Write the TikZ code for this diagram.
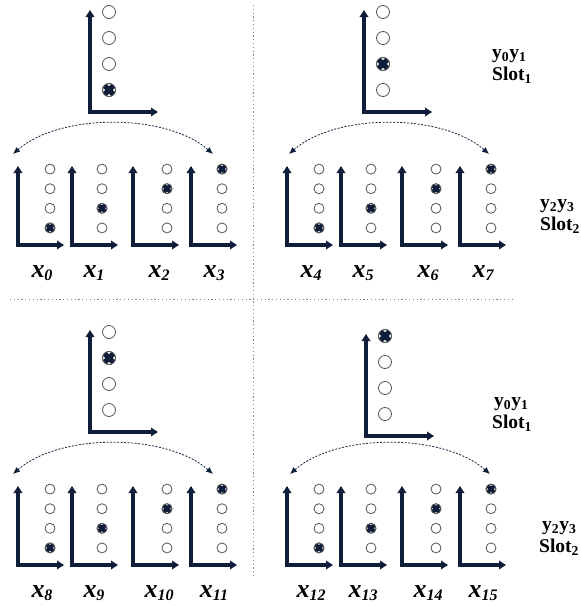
\documentclass[tikz,border=0pt]{standalone}
\usepackage{fontspec}
\setmainfont{Liberation Serif}
\usetikzlibrary{arrows.meta}

\definecolor{navy}{RGB}{14,30,58}
\definecolor{ringgray}{RGB}{85,85,85}
\definecolor{sepgray}{RGB}{130,130,140}

\newcommand\xsub[1]{\raisebox{-3pt}{\fontsize{16}{16}\selectfont #1}}

\tikzset{
  axis/.style={draw=navy,line width=3.4pt,line join=miter,
    {Triangle[length=7pt,width=8.5pt]}-{Triangle[length=7pt,width=8.5pt]}},
  ring/.style={draw=ringgray,line width=0.8pt,fill=white},
  swap/.style={draw=navy,line width=0.8pt,dash pattern=on 2pt off 1.5pt,
    {Latex[length=7pt,width=6pt]}-{Latex[length=7pt,width=6pt]}},
  sep/.style={draw=sepgray,line width=1pt,dash pattern=on 1.2pt off 2.6pt},
  xlab/.style={font=\fontsize{26}{26}\bfseries\itshape\selectfont,anchor=base,inner sep=0pt},
  slot/.style={font=\fontsize{19.5}{22}\bfseries\selectfont,anchor=base west,inner sep=0pt},
  pics/hit/.style={code={
    \begin{scope}
      \clip (0,0) circle (#1);
      \draw[navy,line width=0.8*#1] (-#1,-#1) -- (#1,#1) (-#1,#1) -- (#1,-#1);
    \end{scope}
    \draw[ringgray,line width=0.8pt] (0,0) circle (#1);
  }}
}

\begin{document}
\begin{tikzpicture}[x=1pt,y=-1pt]
\useasboundingbox (0,0) rectangle (581,606);
% separators
\coordinate (septop) at (253,5);
\coordinate (sepbot) at (253,577);
\coordinate (sepl) at (10,299);
\coordinate (sepr) at (512,299);
\draw[sep] (septop) -- (sepbot);
\draw[sep] (sepl) -- (sepr);

% the four quadrants
\foreach \qx/\qy/\bx/\by/\bh/\ax/\n in {0/0/90/0/4/0/0, 269/0/95/0/3/7/4, 0/320/90/0/2/0/8, 269/320/97/4/1/8/12}{
  \begin{scope}[shift={(\qx,\qy)}]
    % big axis
    \draw[axis] (\bx,10+\by) -- (\bx,112+\by) -- (\bx+68,112+\by);
    \foreach \k in {1,...,4} \path[ring] (\bx+19,\by-14+26*\k) circle (6.5pt);
    \pic at (\bx+19,\by-14+26*\bh) {hit=6.5pt};
    % swap arc
    \coordinate (al\n) at (\ax+13,154);
    \coordinate (ar\n) at (\ax+213,154);
    \draw[swap] (al\n) .. controls (\ax+60,113) and (\ax+166,113) .. (ar\n);
    % small axes
    \foreach \sx/\cx/\h/\i in {18/50/4/0, 72/102/3/1, 133/167/2/2, 191/222/1/3}{
      \draw[axis] (\sx,166) -- (\sx,245) -- (\sx+46,245);
      \foreach \k in {1,...,4} \path[ring] (\cx,149.5+19.6*\k) circle (5pt);
      \pic at (\cx,149.5+19.6*\h) {hit=5pt};
      \pgfmathtruncatemacro\m{\n+\i}
      \node[xlab] (x\m) at (\cx-8,277) {x\xsub{\m}};
    }
  \end{scope}
}

% slot texts
\node[slot] (ya) at (492,58) {y\textsubscript{0}y\textsubscript{1}};
\node[slot] (sa) at (492,80) {Slot\textsubscript{1}};
\node[slot] (yb) at (540,208) {y\textsubscript{2}y\textsubscript{3}};
\node[slot] (sb) at (540,230) {Slot\textsubscript{2}};
\node[slot] (yc) at (494,406) {y\textsubscript{0}y\textsubscript{1}};
\node[slot] (sc) at (492,428) {Slot\textsubscript{1}};
\node[slot] (yd) at (542,530) {y\textsubscript{2}y\textsubscript{3}};
\node[slot] (sd) at (539,552) {Slot\textsubscript{2}};
\end{tikzpicture}
\end{document}
